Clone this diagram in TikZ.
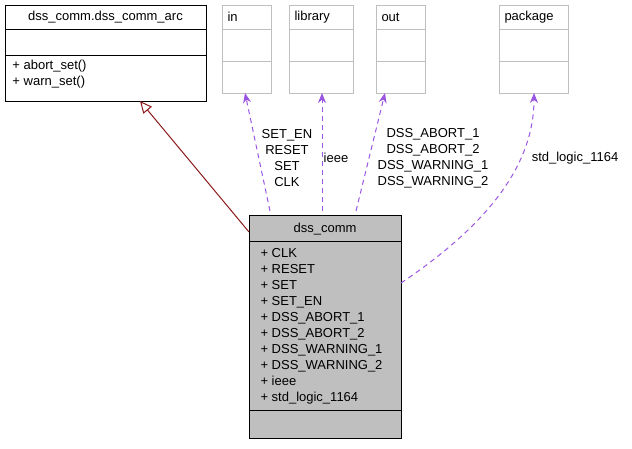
\documentclass[tikz,border=0pt]{standalone}
\usepackage{fontspec}
\setmainfont{Liberation Sans}
\usetikzlibrary{arrows.meta}
\definecolor{Dep}{HTML}{9A56E0}
\definecolor{Inh}{HTML}{8B1A1A}
\definecolor{Ext}{HTML}{BFBFBF}

\begin{document}
\begin{tikzpicture}[x=1pt, y=-1pt, line width=1pt, font=\fontsize{13}{16}\selectfont,
  dep/.style={dash pattern=on 5pt off 4pt, color=Dep, -{Stealth[length=10pt, width=8pt]}},
  lbl/.style={align=center, inner sep=1pt}]

 \useasboundingbox (0,0) rectangle (632,448);

 %%%%%%%%%% Boxes %%%%%%%%%%
 \draw [black] (5,5) rectangle (206,101);
 \draw (5,29) -- (206,29);
 \draw (5,55) -- (206,55);
 \node (arc) at (105.5,17) {dss\_comm.dss\_comm\_arc};
 \node [anchor=north west, align=left, inner sep=0pt] (arcops) at (12,60) {+ abort\_set()\\+ warn\_set()};

 \foreach \nm/\xa/\xb/\txt in {in/222/271/in, lib/289/353/library, out/376/425/out, pkg/499/568/package} {
   \draw [color=Ext] (\xa,5) rectangle (\xb,93);
   \draw [color=Ext] (\xa,29) -- (\xb,29);
   \draw [color=Ext] (\xa,61) -- (\xb,61);
   \node [anchor=west, inner sep=0pt] (\nm) at (\xa+5,17) {\txt};
 }

 \fill [color=Ext] (249,215) rectangle (401,438);
 \draw (249,215) rectangle (401,438);
 \draw (249,241) -- (401,241);
 \draw (249,410) -- (401,410);
 \node (comm) at (325,229) {dss\_comm};
 \node [anchor=north west, align=left, inner sep=0pt] (attrs) at (260,248)
   {+ CLK\\+ RESET\\+ SET\\+ SET\_EN\\+ DSS\_ABORT\_1\\+ DSS\_ABORT\_2\\+ DSS\_WARNING\_1\\+ DSS\_WARNING\_2\\+ ieee\\+ std\_logic\_1164};

 %%%%%%%%%%% Inheritance %%%%%%%%%%%
 \coordinate (c1) at (249,232);
 \coordinate (p1) at (140,101);
 \draw [color=Inh, -{Triangle[open, length=12pt, width=11pt]}] (c1) -- (p1);

 %%%%%%%%%%% Dependencies %%%%%%%%%%%
 \coordinate (c2) at (270,211);
 \coordinate (p2) at (245,93);
 \coordinate (c3) at (322,211);
 \coordinate (p3) at (322,93);
 \coordinate (c4) at (356,211);
 \coordinate (p4) at (385,93);
 \coordinate (c5) at (401,283);
 \coordinate (p5) at (534,93);
 \draw [dep] (c2) -- (p2);
 \draw [dep] (c3) -- (p3);
 \draw [dep] (c4) -- (p4);
 \draw [dep] (c5) .. controls (480,230) and (534,170) .. (p5);

 \node [lbl] (l2) at (287,158) {SET\_EN\\RESET\\SET\\CLK};
 \node [lbl] (l3) at (336,158) {ieee};
 \node [lbl] (l4) at (433,158) {DSS\_ABORT\_1\\DSS\_ABORT\_2\\DSS\_WARNING\_1\\DSS\_WARNING\_2};
 \node [lbl] (l5) at (575,158) {std\_logic\_1164};

\end{tikzpicture}
\end{document}
